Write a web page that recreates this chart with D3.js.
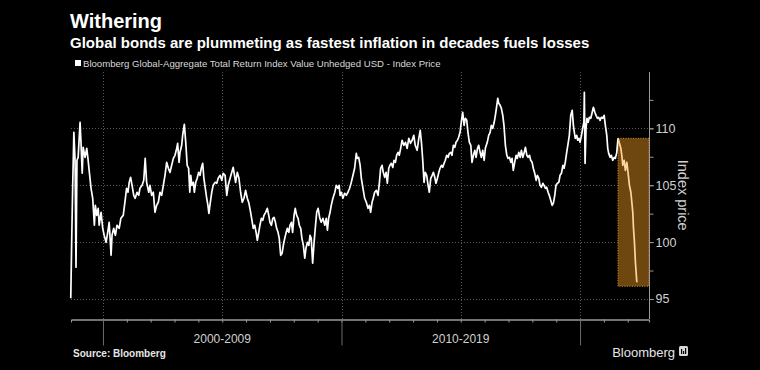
<!DOCTYPE html>
<html><head><meta charset="utf-8">
<script src="https://cdn.jsdelivr.net/npm/d3@7/dist/d3.min.js"></script>
<style>
body{margin:0;background:#000;}
svg{display:block;font-family:"Liberation Sans",Arial,sans-serif;}
</style>
</head><body>
<svg id="chart" width="760" height="370"></svg>
<script>
// ---- data ----
const years = [
1998.65,1998.69,1998.73,1998.78,1998.83,1998.87,1998.91,1998.96,1999.04,1999.08,1999.13,1999.17,1999.25,1999.32,1999.37,1999.43,1999.50,1999.57,1999.64,1999.68,1999.74,1999.80,1999.84,1999.92,1999.99,
2000.05,2000.13,2000.20,2000.26,2000.34,2000.38,2000.45,2000.52,2000.59,2000.68,2000.75,2000.85,2000.94,2000.99,
2001.05,2001.10,2001.16,2001.22,2001.29,2001.35,2001.43,2001.50,2001.55,2001.64,2001.71,2001.77,2001.83,2001.92,2001.97,
2002.04,2002.11,2002.18,2002.25,2002.32,2002.39,2002.46,2002.53,2002.60,2002.67,2002.74,2002.81,2002.88,2002.95,
2003.02,2003.09,2003.13,2003.19,2003.23,2003.30,2003.34,2003.41,2003.47,2003.53,2003.59,2003.64,2003.68,2003.73,2003.79,2003.83,2003.89,2003.95,
2004.01,2004.07,2004.12,2004.18,2004.23,2004.29,2004.35,2004.40,2004.44,2004.50,2004.56,2004.62,2004.70,2004.77,2004.83,2004.91,2004.98,
2005.04,2005.12,2005.19,2005.25,2005.33,2005.40,2005.46,2005.56,2005.63,2005.70,2005.77,2005.84,2005.91,2005.98,
2006.05,2006.12,2006.19,2006.26,2006.30,2006.36,2006.42,2006.47,2006.53,2006.58,2006.64,2006.70,2006.75,2006.82,2006.89,2006.95,
2007.00,2007.06,2007.12,2007.17,2007.23,2007.28,2007.34,2007.39,2007.45,2007.51,2007.56,2007.62,2007.67,2007.73,2007.79,2007.84,2007.90,2007.95,
2008.01,2008.06,2008.12,2008.18,2008.23,2008.29,2008.34,2008.40,2008.46,2008.51,2008.57,2008.63,2008.68,2008.73,2008.79,2008.85,2008.90,2008.96,
2009.02,2009.09,2009.15,2009.22,2009.30,2009.36,2009.41,2009.46,2009.52,2009.57,2009.64,2009.72,2009.78,2009.85,2009.90,2009.94,2009.99,
2010.06,2010.13,2010.20,2010.27,2010.34,2010.41,2010.48,2010.55,2010.62,2010.66,2010.72,2010.78,2010.83,2010.90,2010.97,
2011.04,2011.11,2011.17,2011.22,2011.28,2011.33,2011.39,2011.46,2011.53,2011.59,2011.64,2011.70,2011.75,2011.81,2011.87,2011.92,2011.98,
2012.03,2012.09,2012.15,2012.20,2012.26,2012.31,2012.37,2012.42,2012.48,2012.54,2012.61,2012.68,2012.75,2012.82,2012.89,2012.96,
2013.03,2013.09,2013.17,2013.24,2013.30,2013.35,2013.40,2013.46,2013.51,2013.57,2013.63,2013.68,2013.74,2013.80,2013.85,2013.91,2013.96,
2014.02,2014.08,2014.13,2014.19,2014.24,2014.30,2014.35,2014.41,2014.47,2014.52,2014.58,2014.63,2014.69,2014.75,2014.80,2014.86,2014.91,2014.97,
2015.02,2015.08,2015.14,2015.19,2015.25,2015.30,2015.36,2015.42,2015.47,2015.53,2015.59,2015.64,2015.70,2015.75,2015.81,2015.86,2015.92,2015.98,
2016.03,2016.11,2016.17,2016.23,2016.28,2016.34,2016.40,2016.45,2016.51,2016.55,2016.59,2016.65,2016.70,2016.76,2016.81,2016.87,2016.93,2016.98,
2017.04,2017.10,2017.15,2017.20,2017.26,2017.32,2017.37,2017.43,2017.49,2017.54,2017.60,2017.65,2017.71,2017.77,2017.82,2017.88,2017.93,2017.99,
2018.04,2018.10,2018.16,2018.21,2018.27,2018.32,2018.38,2018.44,2018.49,2018.55,2018.60,2018.66,2018.71,2018.77,2018.83,2018.88,2018.94,2018.99,
2019.05,2019.11,2019.16,2019.22,2019.28,2019.33,2019.38,2019.44,2019.50,2019.55,2019.61,2019.67,2019.72,2019.76,2019.80,2019.86,2019.90,2019.95,
2020.00,2020.06,2020.11,2020.16,2020.18,2020.21,2020.25,2020.29,2020.34,2020.39,2020.45,2020.50,2020.56,2020.62,2020.67,2020.73,2020.78,2020.84,2020.89,2020.95,
2021.01,2021.06,2021.12,2021.16,2021.20,2021.26,2021.31,2021.37,2021.43,2021.48,2021.54,2021.59,2021.65,2021.71,2021.76,2021.79,2021.85,2021.90,2021.96,
2022.01,2022.07,2022.13,2022.17,2022.21,2022.24,2022.28,2022.32,2022.38
];
const values = [
95.06,100.16,104.82,109.65,107.19,97.79,107.19,107.45,110.53,108.68,106.05,108.33,107.45,108.24,107.36,106.13,104.73,103.85,101.48,103.23,102.35,102.97,101.48,102.62,101.21,
100.60,99.98,100.86,101.74,98.84,100.60,101.21,100.60,101.48,101.21,102.09,102.35,103.85,104.73,
104.38,105.25,105.69,104.99,104.11,103.85,104.38,104.11,104.73,104.99,105.43,107.36,105.25,104.38,104.99,
104.11,104.38,102.62,103.23,103.50,104.38,104.11,104.99,105.87,107.01,106.49,106.13,106.75,107.36,
107.63,108.24,108.68,107.01,107.89,108.51,109.38,110.35,108.77,106.75,106.49,104.38,105.87,104.99,105.25,104.38,105.25,105.61,
106.13,105.87,106.49,106.92,105.61,104.73,103.85,103.23,102.53,103.50,104.38,104.99,105.25,105.17,105.61,105.87,105.43,
106.05,105.87,104.11,104.99,105.61,106.13,106.57,105.25,106.13,105.61,104.38,103.50,103.85,104.55,
103.85,103.41,102.62,101.74,101.21,101.48,100.86,100.16,100.86,101.48,102.09,101.92,102.35,102.62,102.97,102.35,
101.74,101.48,102.09,102.18,101.74,101.21,100.86,100.33,98.84,99.02,99.72,100.33,100.77,101.21,100.86,101.48,101.74,100.86,
102.35,102.97,102.35,102.09,101.48,101.21,100.33,99.72,98.58,99.46,99.98,99.72,100.60,100.33,98.14,99.98,101.21,102.62,
102.97,102.09,101.74,102.09,101.48,102.09,101.04,102.09,102.62,103.23,103.85,104.38,104.99,104.73,104.99,104.11,104.38,
103.85,104.29,104.11,104.38,104.73,105.25,105.87,106.49,107.80,107.36,107.45,106.75,105.61,104.73,103.85,
103.50,102.97,103.23,102.62,103.50,103.85,104.38,104.55,104.11,105.25,106.49,106.75,106.13,105.69,106.13,105.17,106.49,
106.75,106.92,106.57,107.19,107.01,107.63,107.89,107.63,108.24,108.95,108.51,108.77,108.24,109.12,108.68,108.95,
109.38,108.51,108.07,109.12,109.82,108.77,107.36,105.25,106.13,105.87,104.99,104.38,105.61,105.87,106.13,105.69,105.17,
105.61,106.13,106.49,106.75,106.57,106.92,107.19,107.63,107.45,107.80,107.89,107.63,108.51,108.33,108.77,108.95,109.21,109.65,
110.53,111.41,110.26,110.88,110.70,109.65,108.77,108.51,107.01,107.63,108.07,107.45,108.24,108.51,107.89,107.45,108.07,107.19,
108.24,108.77,109.38,109.65,110.26,110.00,110.53,111.14,112.02,112.64,112.20,112.02,111.76,111.14,110.26,108.51,107.63,107.36,
107.45,107.01,107.36,106.31,107.01,107.63,107.36,107.89,107.45,108.07,107.45,107.80,108.33,107.63,107.45,107.63,107.19,107.01,
106.49,106.05,105.43,105.87,105.61,104.99,104.82,105.17,104.99,104.73,104.82,104.38,104.11,103.67,103.23,103.41,104.11,104.99,
105.17,105.25,105.87,106.05,106.75,106.49,107.01,107.89,108.68,109.38,111.14,111.58,110.26,109.65,109.12,109.38,108.95,109.12,
108.77,109.38,110.00,110.53,113.16,106.92,110.00,110.88,110.53,110.97,110.88,111.32,111.85,111.41,111.14,110.88,110.97,110.70,110.97,110.88,
111.14,110.26,109.38,108.24,107.80,107.45,107.63,107.19,107.45,107.36,107.89,109.12,108.68,108.24,107.45,106.75,107.19,106.31,107.01,
106.13,104.99,104.38,103.50,102.62,101.21,99.98,98.23,96.47
];
const highlightStart = 2021.59;          // start of the highlighted sell-off
const yGridValues = [95, 100, 105, 110];
const yLabelValues = [95, 100, 105, 110];
const yMinorValues = [95, 97.5, 100, 102.5, 105, 107.5, 110, 112.5];
const xGridYears = [2000, 2005, 2010, 2015, 2020];
const xMinorYears = d3.range(2000, 2023);
const xMajorYears = [2000, 2010, 2020];
const decadeLabels = ["2000-2009", "2010-2019"];
const decadeMid = [2005, 2015];

const title = "Withering";
const subtitle = "Global bonds are plummeting as fastest inflation in decades fuels losses";
const legendText = "Bloomberg Global-Aggregate Total Return Index Value Unhedged USD - Index Price";
const yAxisTitle = "Index price";
const sourceText = "Source: Bloomberg";
const brandText = "Bloomberg";

// ---- layout ----
const svg = d3.select("#chart");
const plot = {left: 71, right: 649, top: 72, bottom: 319};

svg.append("rect").attr("width", 760).attr("height", 370).attr("fill", "#000");

const x = d3.scaleLinear().domain([1998.66, 2022.89]).range([plot.left, plot.right]);
const y = d3.scaleLinear().domain([93.24, 114.95]).range([plot.bottom, plot.top]);

const data = years.map((yr, i) => ({year: yr, value: values[i]}));
const splitIdx = data.findIndex(d => d.year >= highlightStart);
const before = data.slice(0, splitIdx + 1);
const after = data.slice(splitIdx);

// titles
svg.append("text").attr("x", 70).attr("y", 28).text(title)
  .attr("fill", "#fff").attr("font-weight", "bold").attr("font-size", 20);
svg.append("text").attr("x", 70).attr("y", 48).text(subtitle)
  .attr("fill", "#fff").attr("font-weight", "bold").attr("font-size", 15);
svg.append("rect").attr("x", 75).attr("y", 60).attr("width", 6).attr("height", 6).attr("fill", "#fff");
svg.append("text").attr("x", 83).attr("y", 66.5).text(legendText)
  .attr("fill", "#d9d9d9").attr("font-size", 9.6);

// grid
const grid = svg.append("g").attr("stroke", "#5a5a5a").attr("stroke-width", 1).attr("stroke-dasharray", "1,2");
grid.selectAll("line.h").data(yGridValues).join("line").attr("class", "h")
  .attr("x1", plot.left).attr("x2", plot.right)
  .attr("y1", d => Math.round(y(d)) + 0.5).attr("y2", d => Math.round(y(d)) + 0.5);
grid.selectAll("line.v").data(xGridYears).join("line").attr("class", "v")
  .attr("x1", d => Math.round(x(d)) + 0.5).attr("x2", d => Math.round(x(d)) + 0.5)
  .attr("y1", plot.top).attr("y2", plot.bottom);

// highlight box
const hiVals = after.map(d => d.value);
const hiTop = d3.max(hiVals);
const hiBottom = d3.min(hiVals) - 0.35;
svg.append("rect")
  .attr("x", x(highlightStart)).attr("y", y(hiTop))
  .attr("width", plot.right - x(highlightStart)).attr("height", y(hiBottom) - y(hiTop))
  .attr("fill", "#6e4610").attr("stroke", "#d7962e").attr("stroke-width", 1)
  .attr("stroke-dasharray", "1,1.5");

// lines
const line = d3.line().x(d => x(d.year)).y(d => y(d.value));
svg.append("path").datum(before).attr("d", line).attr("fill", "none")
  .attr("stroke", "#fff").attr("stroke-width", 1.7).attr("stroke-linejoin", "round");
svg.append("path").datum(after).attr("d", line).attr("fill", "none")
  .attr("stroke", "#ffd49a").attr("stroke-width", 1.7).attr("stroke-linejoin", "round");

// right axis
const axisColor = "#9a9a9a";
const yAxisMinor = svg.append("g").attr("transform", `translate(${plot.right + 0.5},0)`)
  .call(d3.axisRight(y).tickValues(yMinorValues).tickSize(4).tickFormat(""));
const yAxisLab = svg.append("g").attr("transform", `translate(${plot.right + 0.5},0)`)
  .call(d3.axisRight(y).tickValues(yLabelValues).tickSize(4).tickPadding(2).tickFormat(d3.format("d")));
[yAxisMinor, yAxisLab].forEach(g => {
  g.selectAll("path.domain").attr("stroke", axisColor);
  g.selectAll(".tick line").attr("stroke", axisColor);
  g.selectAll(".tick text").attr("fill", "#d0d0d0").attr("font-size", 12.5)
    .attr("font-family", "\"Liberation Sans\",Arial,sans-serif");
});
yAxisLab.select("path.domain").attr("d", `M0,${plot.top}V${plot.bottom}`);
yAxisMinor.select("path.domain").remove();

svg.append("text")
  .attr("transform", `translate(${678},${(y(100) + y(110)) / 2 + 10}) rotate(90)`)
  .attr("text-anchor", "middle").attr("fill", "#d0d0d0").attr("font-size", 14.5)
  .text(yAxisTitle);

// bottom axis
const xAxisMinor = svg.append("g").attr("transform", `translate(0,${plot.bottom + 0.5})`)
  .call(d3.axisBottom(x).tickValues(xMinorYears).tickSize(3).tickSizeOuter(3).tickFormat(""));
const xAxisMajor = svg.append("g").attr("transform", `translate(0,${plot.bottom + 0.5})`)
  .call(d3.axisBottom(x).tickValues(xMajorYears).tickSize(26).tickSizeOuter(0).tickFormat(""));
[xAxisMinor, xAxisMajor].forEach(g => {
  g.selectAll("path.domain").attr("stroke", axisColor);
  g.selectAll(".tick line").attr("stroke", d => xMajorYears.includes(d) && g === xAxisMajor ? "#6a6a6a" : axisColor);
});
svg.selectAll("text.decade").data(decadeLabels).join("text").attr("class", "decade")
  .attr("x", (d, i) => x(decadeMid[i])).attr("y", 343)
  .attr("text-anchor", "middle").attr("fill", "#d0d0d0").attr("font-size", 12)
  .text(d => d);

// footer
svg.append("text").attr("x", 73).attr("y", 357).text(sourceText)
  .attr("fill", "#e6e6e6").attr("font-weight", "bold").attr("font-size", 10);
svg.append("text").attr("x", 675).attr("y", 357).attr("text-anchor", "end").text(brandText)
  .attr("fill", "#e6e6e6").attr("font-size", 13);
const logo = svg.append("g").attr("transform", "translate(679,346)");
logo.append("rect").attr("width", 9).attr("height", 10).attr("rx", 1.5).attr("fill", "#d8d8d8");
[[2, 5], [4, 3], [6, 6]].forEach(([bx, bh]) => {
  logo.append("rect").attr("x", bx).attr("y", 8 - bh).attr("width", 1.2).attr("height", bh).attr("fill", "#000");
});
</script>
</body></html>
